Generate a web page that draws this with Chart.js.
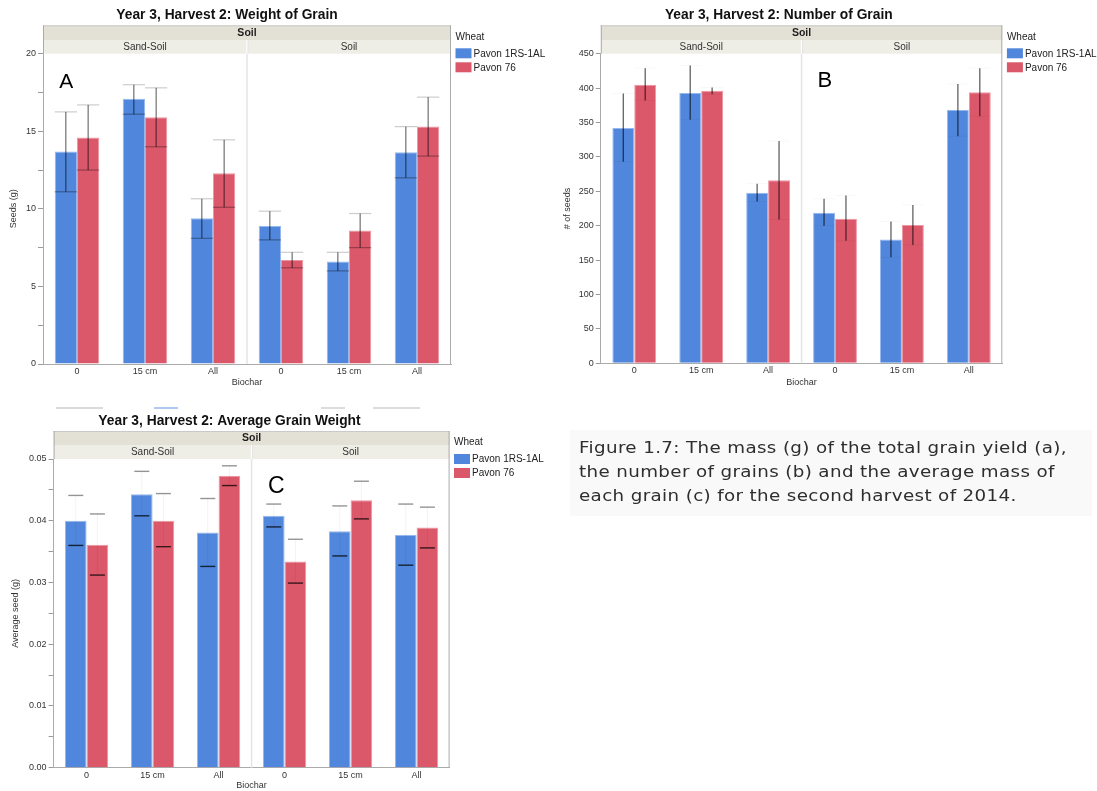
<!DOCTYPE html>
<html>
<head>
<meta charset="utf-8">
<script src="https://cdn.jsdelivr.net/npm/chart.js@4.4.1/dist/chart.umd.min.js"></script>
<style>
  html, body { margin: 0; padding: 0; background: #fff; width: 1097px; height: 791px; overflow: hidden; }
  canvas { position: absolute; display: block; }
  #caption { position: absolute; left: 570px; top: 430px; width: 522px; height: 86px; background: #f9f9f9; }
  #caption p { margin: 0; position: absolute; left: 9px; top: 6px; font: 15.5px "DejaVu Sans", sans-serif; letter-spacing: 0.3px; line-height: 24px; color: #2e2e2e; white-space: nowrap; transform: scaleX(1.18); transform-origin: 0 0; filter: blur(0.35px); }
  .frag { position: absolute; height: 2px; top: 407px; }
</style>
</head>
<body>
<canvas id="chartA" width="550" height="400" style="left:0;top:0"></canvas>
<canvas id="chartB" width="547" height="400" style="left:550px;top:0"></canvas>
<canvas id="chartC" width="550" height="391" style="left:0;top:400px"></canvas>

<div class="frag" style="left:56px;width:47px;background:#dadada"></div>
<div class="frag" style="left:154px;width:24px;background:#aecaee"></div>
<div class="frag" style="left:321px;width:24px;background:#dcdcdc"></div>
<div class="frag" style="left:373px;width:47px;background:#dcdcdc"></div>

<div id="caption"><p>Figure 1.7: The mass (g) of the total grain yield (a),<br>the number of grains (b) and the average mass of<br>each grain (c) for the second harvest of 2014.</p></div>

<script>
// Biochar levels within each soil facet, and the two wheat lines
const biochar = ['0', '15 cm', 'All', '0', '15 cm', 'All'];
const soilFacets = ['Sand-Soil', 'Soil'];
const wheatLines = ['Pavon 1RS-1AL', 'Pavon 76'];

// Weight of grain (g)
const weight1RS = [13.7, 17.1, 9.4, 8.9, 6.6, 13.65];
const weight1RSLow = [11.1, 16.1, 8.1, 8.0, 6.0, 12.0];
const weight1RSHigh = [16.25, 18.0, 10.65, 9.85, 7.2, 15.3];
const weight76 = [14.6, 15.9, 12.3, 6.7, 8.6, 15.3];
const weight76Low = [12.5, 14.0, 10.1, 6.2, 7.5, 13.4];
const weight76High = [16.7, 17.8, 14.45, 7.2, 9.7, 17.2];

// Number of grain
const count1RS = [342, 393, 248, 219, 180, 368];
const count1RSLow = [293, 354, 235, 200, 154, 330];
const count1RSHigh = [392, 433, 261, 239, 206, 406];
const count76 = [405, 396, 266, 210, 201, 394];
const count76Low = [382, 391, 209, 178, 172, 359];
const count76High = [429, 401, 323, 244, 230, 429];

// Average grain weight (g)
const avg1RS = [0.0400, 0.0443, 0.0381, 0.0408, 0.0383, 0.0377];
const avg1RSLow = [0.0360, 0.0408, 0.0326, 0.0390, 0.0343, 0.0328];
const avg1RSHigh = [0.0441, 0.0480, 0.0436, 0.0427, 0.0424, 0.0427];
const avg76 = [0.0361, 0.0400, 0.0473, 0.0334, 0.0433, 0.0389];
const avg76Low = [0.0312, 0.0358, 0.0457, 0.0299, 0.0403, 0.0356];
const avg76High = [0.0411, 0.0444, 0.0489, 0.0370, 0.0464, 0.0422];

const BLUE = 'rgb(80,134,219)';
const RED = 'rgb(219,87,106)';
const BLUE_EDGE = 'rgb(150,184,238)';
const RED_EDGE = 'rgb(236,150,162)';
const FONT = '"Liberation Sans", Arial, Helvetica, sans-serif';

function hline(ctx, x1, x2, y) { ctx.beginPath(); ctx.moveTo(x1, y); ctx.lineTo(x2, y); ctx.stroke(); }
function vline(ctx, x, y1, y2) { ctx.beginPath(); ctx.moveTo(x, y1); ctx.lineTo(x, y2); ctx.stroke(); }

// Facet headers, frame, error bars, title, legend and panel letter
const facetDecor = {
  id: 'facetDecor',
  beforeDatasetsDraw(chart, args, o) {
    const { ctx, chartArea: a, scales: { x } } = chart;
    const mid = (x.getPixelForValue(2) + x.getPixelForValue(3)) / 2;
    ctx.save();
    ctx.strokeStyle = '#e4e4e4';
    ctx.lineWidth = 1.5;
    vline(ctx, mid, a.top, a.bottom);
    ctx.restore();
  },
  afterDatasetsDraw(chart, args, o) {
    const { ctx, scales: { y } } = chart;
    const st = o.errStyle;
    ctx.save();
    chart.data.datasets.forEach((ds, d) => {
      const meta = chart.getDatasetMeta(d);
      meta.data.forEach((el, i) => {
        const cx = el.x;
        const half = st.capHalf != null ? st.capHalf : el.width / 2;
        const yHi = y.getPixelForValue(o.high[d][i]);
        const yLo = y.getPixelForValue(o.low[d][i]);
        ctx.lineWidth = st.stemWidth;
        ctx.strokeStyle = st.stem;
        vline(ctx, cx, yHi, yLo);
        ctx.lineWidth = st.capWidth;
        ctx.strokeStyle = st.topCap;
        hline(ctx, cx - half, cx + half, yHi);
        ctx.strokeStyle = st.lowCap;
        hline(ctx, cx - half, cx + half, yLo);
      });
    });
    ctx.restore();
  },
  afterDraw(chart, args, o) {
    const { ctx, chartArea: a, scales: { x } } = chart;
    const mid = (x.getPixelForValue(2) + x.getPixelForValue(3)) / 2;
    const subTop = a.top - o.subH;
    const headTop = subTop - o.headH;
    ctx.save();
    // header bands
    ctx.fillStyle = '#e3e0d5';
    ctx.fillRect(a.left, headTop, a.right - a.left, o.headH);
    ctx.fillStyle = '#eeede6';
    ctx.fillRect(a.left, subTop, a.right - a.left, o.subH);
    ctx.strokeStyle = '#ffffff';
    ctx.lineWidth = 1.5;
    vline(ctx, mid, subTop, a.top);
    ctx.strokeStyle = '#e4e4e4';
    ctx.lineWidth = 1;
    vline(ctx, mid + 1, subTop, a.top);
    // frame
    ctx.strokeStyle = '#c9c9c9';
    ctx.lineWidth = 1;
    hline(ctx, a.left, a.right, headTop + 0.5);
    ctx.strokeStyle = '#ababab';
    vline(ctx, a.left + 0.5, headTop, a.top);
    vline(ctx, a.right - 0.5, headTop, a.bottom);
    // header text
    ctx.fillStyle = '#1e1e1e';
    ctx.textAlign = 'center';
    ctx.textBaseline = 'middle';
    ctx.font = 'bold 10.5px ' + FONT;
    ctx.fillText('Soil', (a.left + a.right) / 2, headTop + o.headH / 2 + 0.5);
    ctx.font = '10px ' + FONT;
    ctx.fillStyle = '#333';
    ctx.fillText(soilFacets[0], (a.left + mid) / 2, subTop + o.subH / 2 + 0.5);
    ctx.fillText(soilFacets[1], (mid + a.right) / 2, subTop + o.subH / 2 + 0.5);
    // title
    ctx.fillStyle = '#111';
    ctx.font = 'bold 13.8px ' + FONT;
    ctx.fillText(o.title, o.titleX, o.titleY);
    // legend
    const lx = a.right + o.legendGap;
    ctx.textAlign = 'left';
    ctx.font = '10px ' + FONT;
    ctx.fillStyle = '#222';
    ctx.fillText('Wheat', lx, headTop + 11.5);
    chart.data.datasets.forEach((ds, d) => {
      const sy = headTop + 23 + d * 14;
      ctx.fillStyle = ds.backgroundColor;
      ctx.fillRect(lx, sy, 16, 10);
      ctx.fillStyle = '#222';
      ctx.fillText(ds.label, lx + 18, sy + 5.5);
    });
    // panel letter
    ctx.fillStyle = '#000';
    ctx.textBaseline = 'alphabetic';
    ctx.font = o.letterSize + 'px ' + FONT;
    ctx.fillText(o.letter, a.left + o.letterDx, a.top + o.letterDy);
    ctx.restore();
  }
};

function makeChart(id, cfg) {
  return new Chart(document.getElementById(id), {
    type: 'bar',
    data: {
      labels: biochar,
      datasets: [
        { label: wheatLines[0], data: cfg.blue, backgroundColor: BLUE, borderColor: BLUE_EDGE, borderWidth: 1 },
        { label: wheatLines[1], data: cfg.red, backgroundColor: RED, borderColor: RED_EDGE, borderWidth: 1 }
      ]
    },
    options: {
      responsive: false,
      animation: false,
      events: [],
      layout: { padding: { left: 0, top: cfg.top, right: cfg.right, bottom: 0 } },
      datasets: { bar: { categoryPercentage: 0.655, barPercentage: 1.0 } },
      plugins: {
        legend: { display: false },
        title: { display: false },
        tooltip: { enabled: false },
        facetDecor: cfg.decor
      },
      scales: {
        x: {
          offset: true,
          grid: { display: false, drawTicks: false },
          border: { display: true, color: '#ababab', width: 1 },
          ticks: { color: '#333', font: { family: FONT, size: 9 }, padding: 2, maxRotation: 0, autoSkip: false },
          title: { display: true, text: 'Biochar', color: '#333', font: { family: FONT, size: 9 }, padding: { top: 0, bottom: cfg.xTitlePad } },
          afterFit(s) { s.height = cfg.xH; }
        },
        y: {
          min: 0,
          max: cfg.yMax,
          grid: { drawOnChartArea: false, drawTicks: true, tickLength: 5, color: '#9a9a9a' },
          border: { display: true, color: '#ababab', width: 1 },
          ticks: { stepSize: cfg.step, color: '#333', font: { family: FONT, size: 9 }, padding: 2, callback: cfg.tickLabel },
          title: { display: true, text: cfg.yTitle, color: '#333', font: { family: FONT, size: 9 }, padding: { top: cfg.yTitlePad, bottom: 0 } },
          afterFit(s) { s.width = cfg.yW; }
        }
      }
    },
    plugins: [facetDecor]
  });
}

makeChart('chartA', {
  blue: weight1RS, red: weight76,
  yMax: 20, step: 2.5, yTitle: 'Seeds (g)',
  tickLabel: v => (Math.abs(v % 5) < 1e-9 ? String(v) : ''),
  top: 53.7, right: 99, yW: 43, xH: 36, yTitlePad: 8.6, xTitlePad: 11.6,
  decor: {
    title: 'Year 3, Harvest 2: Weight of Grain', titleX: 227, titleY: 15.5,
    headH: 14.7, subH: 13.7, legendGap: 4.5,
    letter: 'A', letterSize: 21, letterDx: 16.3, letterDy: 34.6,
    low: [weight1RSLow, weight76Low], high: [weight1RSHigh, weight76High],
    errStyle: { stem: 'rgba(0,0,0,0.68)', stemWidth: 1, topCap: 'rgba(0,0,0,0.2)', lowCap: 'rgba(0,0,0,0.32)', capWidth: 1.2, capHalf: null }
  }
});

makeChart('chartB', {
  blue: count1RS, red: count76,
  yMax: 450, step: 50, yTitle: '# of seeds',
  tickLabel: v => String(v),
  top: 53.7, right: 94.7, yW: 50.8, xH: 36.7, yTitlePad: 12, xTitlePad: 12.3,
  decor: {
    title: 'Year 3, Harvest 2: Number of Grain', titleX: 228.8, titleY: 15.5,
    headH: 14.7, subH: 13.7, legendGap: 4.6,
    letter: 'B', letterSize: 22, letterDx: 216.7, letterDy: 33.6,
    low: [count1RSLow, count76Low], high: [count1RSHigh, count76High],
    errStyle: { stem: 'rgba(0,0,0,0.62)', stemWidth: 1.3, topCap: 'rgba(0,0,0,0.03)', lowCap: 'rgba(0,0,0,0.03)', capWidth: 1, capHalf: null }
  }
});

makeChart('chartC', {
  blue: avg1RS, red: avg76,
  yMax: 0.05, step: 0.005, yTitle: 'Average seed (g)',
  tickLabel: v => { const k = Math.round(v * 1000); return k % 10 === 0 ? (k / 1000).toFixed(2) : ''; },
  top: 59, right: 100.4, yW: 53.6, xH: 23.3, yTitlePad: 10.5, xTitlePad: 0,
  decor: {
    title: 'Year 3, Harvest 2: Average Grain Weight', titleX: 229.5, titleY: 20.7,
    headH: 14, subH: 14, legendGap: 4.4,
    letter: 'C', letterSize: 23, letterDx: 214.4, letterDy: 33.5,
    low: [avg1RSLow, avg76Low], high: [avg1RSHigh, avg76High],
    errStyle: { stem: 'rgba(0,0,0,0.05)', stemWidth: 1, topCap: 'rgba(0,0,0,0.42)', lowCap: 'rgba(0,0,0,0.75)', capWidth: 1.4, capHalf: 7.5 }
  }
});
</script>
</body>
</html>
